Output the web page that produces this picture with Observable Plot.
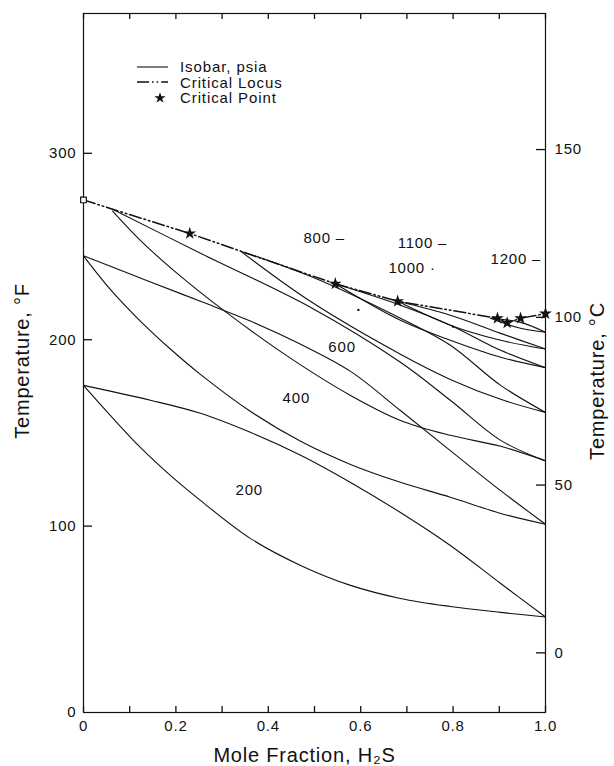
<!DOCTYPE html>
<html><head><meta charset="utf-8">
<script src="https://cdn.jsdelivr.net/npm/d3@7"></script>
<script src="https://cdn.jsdelivr.net/npm/@observablehq/plot@0.6"></script>
<style>
body{margin:0;background:#fff;}
#wrap{position:relative;width:614px;height:766px;font-family:"Liberation Sans",Arial,sans-serif;color:#111;}
#legend{position:absolute;left:137px;top:59px;font-size:15px;letter-spacing:0.9px;}
.row{display:flex;align-items:center;height:15.5px;white-space:nowrap;}
.row svg{flex:none;}
</style></head><body><div id="wrap"><div id="legend"></div></div>
<script>
// ---- data (x = mole fraction H2S, T = temperature °F) ----
const iso200Dew = [[0,175.5],[0.145,167.5],[0.253,160.5],[0.361,150.3],[0.47,138],[0.578,123.4],[0.686,107.3],[0.794,89.6],[0.903,69.2],[1,51.2]];
const iso200Bub = [[0,175.5],[0.058,159.4],[0.123,142.2],[0.188,127.2],[0.253,113.8],[0.361,93.4],[0.47,78.9],[0.578,68.2],[0.686,61.2],[0.794,56.9],[0.903,53.7],[1,51.2]];
const iso400Dew = [[0,245],[0.145,231],[0.253,220.6],[0.361,210],[0.47,197.5],[0.578,183],[0.686,162],[0.794,140.5],[0.903,119],[1,101]];
const iso400Bub = [[0,245],[0.058,227],[0.123,210],[0.188,195],[0.253,181.4],[0.361,161.6],[0.47,145.5],[0.578,133.1],[0.686,123.5],[0.794,115.5],[0.903,106.8],[1,101]];
const iso600Dew = [[0.063,270],[0.253,246.4],[0.491,217.4],[0.686,187.9],[0.794,167.5],[0.903,146],[1,135]];
const iso600Bub = [[0.063,269],[0.123,253.3],[0.195,237.2],[0.312,214.1],[0.455,188.9],[0.578,170.1],[0.686,156.7],[0.794,148.7],[0.903,142.8],[1,135]];
const iso800Dew = [[0.34,247.5],[0.491,234],[0.686,211.5],[0.794,197],[0.903,175.5],[1,161]];
const iso800Bub = [[0.34,247.5],[0.491,220.6],[0.686,192.2],[0.794,178.7],[0.903,168],[1,161]];
const iso1000Dew = [[0.545,230],[0.686,218.5],[0.794,207.8],[0.903,194.3],[1,185]];
const iso1000Bub = [[0.545,230],[0.686,210.4],[0.794,199.7],[0.903,190.6],[1,185]];
const iso1100Dew = [[0.68,220.6],[0.794,213.1],[0.903,203.4],[1,195]];
const iso1100Bub = [[0.68,220.6],[0.794,207.8],[0.903,199.7],[1,195]];
const iso1200Dew = [[0.881,211.5],[0.946,209.3],[1,204]];
const iso1200Bub = [[0.881,211.5],[0.946,206.1],[1,204]];
const locus = [[0,275],[0.063,270],[0.23,257],[0.34,247.5],[0.545,230],[0.68,220.6],[0.896,211.5],[0.917,209],[0.946,211.5],[1,214]];
const critPoints = [[0.23,257],[0.545,230],[0.68,220.6],[0.896,211.5],[0.917,209],[0.946,211.5],[1,214]];
const smallMarks = [[0.595,216],[0.8,207]];
const pureCrit = [[0,275]];
const isoLabels = ["200","400","600","800 –","1000 ·","1100 –","1200 –"];
const isoLabelX = [0.329,0.431,0.53,0.476,0.66,0.68,0.881];
const isoLabelT = [119.2,168.5,196,254.4,238.3,251.7,243];
const xMinor = [0,0.1,0.2,0.3,0.4,0.5,0.6,0.7,0.8,0.9,1.0];
const xLabels = [0,0.2,0.4,0.6,0.8,1.0];
const fTicks = [0,100,200,300];
const cTicks = [0,50,100,150];
const legendItems = ["Isobar, psia","Critical Locus","Critical Point"];

// ---- build tables ----
const branches = {
  "200d":iso200Dew,"200b":iso200Bub,"400d":iso400Dew,"400b":iso400Bub,
  "600d":iso600Dew,"600b":iso600Bub,"800d":iso800Dew,"800b":iso800Bub,
  "1000d":iso1000Dew,"1000b":iso1000Bub,"1100d":iso1100Dew,"1100b":iso1100Bub,
  "1200d":iso1200Dew,"1200b":iso1200Bub
};
const isoRows = Object.entries(branches).flatMap(([id,pts]) => pts.map(([x,T]) => ({id,x,T})));
const toRows = a => a.map(([x,T]) => ({x,T}));
const labelRows = isoLabels.map((t,i) => ({t, x:isoLabelX[i], T:isoLabelT[i]}));
const cToF = c => c*9/5+32;

const W = 614, H = 766, mT = 13, mR = 69, mB = 54, mL = 83;
const innerW = W - mL - mR, innerH = H - mT - mB;
const tk = {stroke: "#111", strokeWidth: 1.3};

const font = `"Liberation Sans", Arial, sans-serif`;
const plot = Plot.plot({
  width: W, height: H,
  marginTop: mT, marginRight: mR, marginBottom: mB, marginLeft: mL,
  style: {fontFamily: font, fontSize: "15px", color: "#111", background: "white"},
  x: {domain: [0,1], axis: null},
  y: {domain: [0,375], axis: null},
  marks: [
    Plot.frame({stroke: "#111", strokeWidth: 1.2}),
    // inward ticks
    Plot.tickX(xMinor, {x: d => d, insetTop: innerH - 6, ...tk}),
    Plot.tickX(xMinor, {x: d => d, insetBottom: innerH - 6, ...tk}),
    Plot.tickY(fTicks.slice(1), {y: d => d, insetRight: innerW - 9, ...tk}),
    Plot.tickY(cTicks.map(cToF), {y: d => d, insetLeft: innerW - 9, ...tk}),
    // tick labels
    Plot.axisX(xLabels, {anchor: "bottom", tickSize: 0, tickPadding: 8, label: null,
      tickFormat: d => d === 0 ? "0" : d.toFixed(1), fontSize: 15}),
    Plot.axisY(fTicks, {anchor: "left", tickSize: 0, tickPadding: 7, label: null,
      tickFormat: d => String(d), fontSize: 15}),
    Plot.axisY(cTicks.map(cToF), {anchor: "right", tickSize: 0, tickPadding: 9, label: null,
      tickFormat: f => String(Math.round((f-32)*5/9)), fontSize: 15}),
    // titles
    Plot.text(["Mole Fraction, H₂S"], {frameAnchor: "bottom", lineAnchor: "bottom", textAnchor: "middle", dx: -10, dy: 49, fontSize: 20, fill: "#111", style: "letter-spacing:2px"}),
    Plot.text(["Temperature, °F"], {frameAnchor: "left", textAnchor: "middle", dx: -61, dy: -2, rotate: -90, fontSize: 20, fill: "#111", style: "letter-spacing:2px"}),
    Plot.text(["Temperature, °C"], {frameAnchor: "right", textAnchor: "middle", dx: 52, dy: 18, rotate: -90, fontSize: 20, fill: "#111", style: "letter-spacing:2px"}),
    // curves
    Plot.line(isoRows, {x: "x", y: "T", z: "id", curve: "catmull-rom", stroke: "#111", strokeWidth: 1.1}),
    Plot.line(toRows(locus), {x: "x", y: "T", curve: "linear", stroke: "#111", strokeWidth: 1.5,
      strokeDasharray: "12,3,1.6,3,1.6,3"}),
    Plot.dot(toRows(critPoints), {x: "x", y: "T", symbol: "star", r: 4, fill: "#111"}),
    Plot.dot(toRows(smallMarks), {x: "x", y: "T", r: 1.2, fill: "#111"}),
    Plot.dot(toRows(pureCrit), {x: "x", y: "T", symbol: "square", r: 3.2, fill: "white", stroke: "#111", strokeWidth: 1.2}),
    Plot.text(labelRows, {x: "x", y: "T", text: "t", textAnchor: "start", fontSize: 15, fill: "#111"})
  ]
});
plot.style.letterSpacing = "0.8px";
document.getElementById("wrap").prepend(plot);

// legend (HTML overlay)
const lg = document.getElementById("legend");
const symbols = [
  `<svg width="43" height="10"><line x1="0" x2="31" y1="5" y2="5" stroke="#111" stroke-width="1.1"/></svg>`,
  `<svg width="43" height="10"><line x1="0" x2="31" y1="5" y2="5" stroke="#111" stroke-width="1.5" stroke-dasharray="12,3,1.6,3,1.6,3"/></svg>`,
  `<svg width="43" height="10"><path transform="translate(23,5)" d="${d3.symbol(d3.symbolStar, 40)()}" fill="#111"/></svg>`
];
legendItems.forEach((t,i) => {
  const r = document.createElement("div");
  r.className = "row";
  r.innerHTML = symbols[i] + `<span>${t}</span>`;
  lg.appendChild(r);
});
</script>
</body></html>
